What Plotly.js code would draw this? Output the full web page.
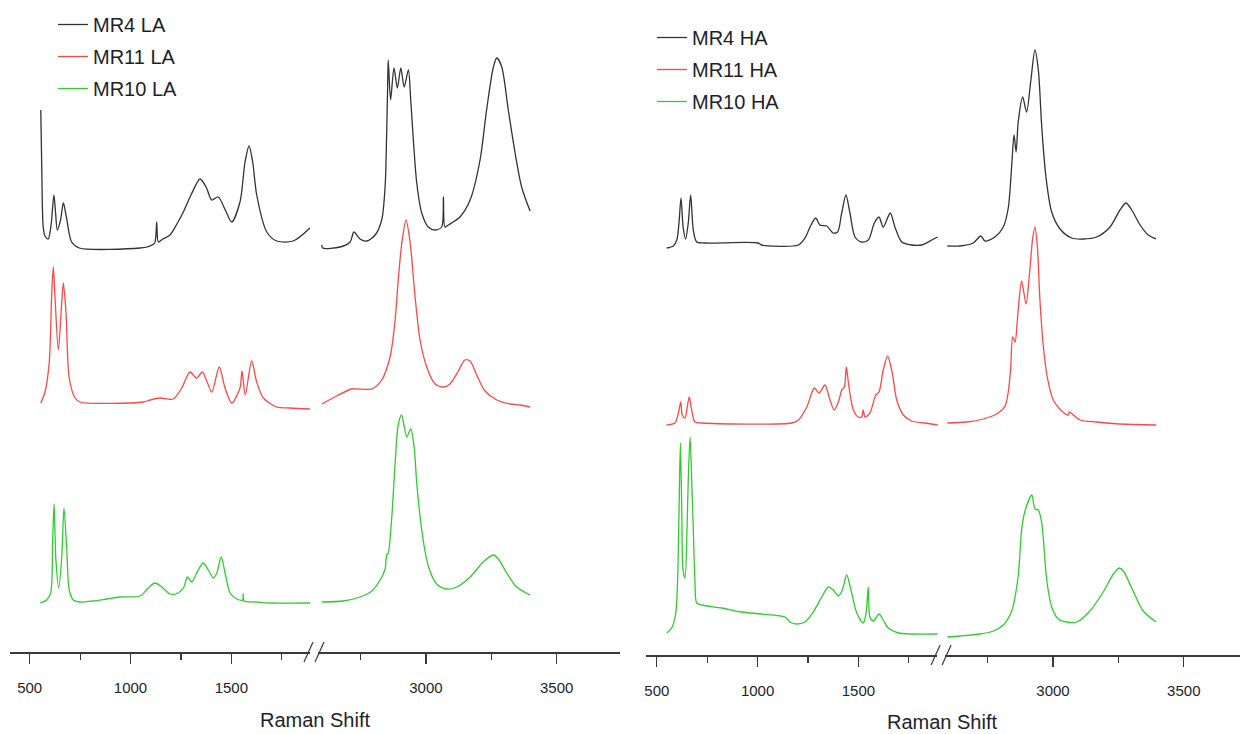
<!DOCTYPE html>
<html><head><meta charset="utf-8">
<script src="https://cdn.plot.ly/plotly-3.0.1.min.js"></script>
<style>html,body{margin:0;padding:0;background:#fff}#chart{width:1240px;height:734px}</style>
</head><body><div id="chart"></div>
<script>
// ---------- DATA (Raman shift, intensity a.u. incl. stack offset) ----------
// Left panel: LA samples
const LA_MR4_x1 = [555,560,567,576,592,606,620,628,637,653,667,682,708,746,1047,1097,1120,1130,1138,1160,1196,1230,1262,1300,1345,1375,1403,1435,1470,1502,1543,1568,1588,1606,1626,1676,1725,1807,1890];
const LA_MR4_y1 = [542,482,425,416,413,427,457,440,422,432,449,435,410,404,404,406,409,430,410,413,417,428,440,457,473,465,452,455,442,430,450,490,506,490,457,420,411,411,424];
const LA_MR4_x2 = [2602,2605,2672,2710,2725,2748,2774,2806,2831,2844,2850,2854,2856,2865,2878,2891,2904,2917,2933,2942,2952,2965,2984,3009,3035,3060,3067,3073,3086,3130,3169,3207,3232,3258,3271,3290,3315,3341,3366,3398];
const LA_MR4_y2 = [407,404,405,410,420,413,411,417,432,465,519,569,592,552,584,564,584,565,582,552,512,469,439,425,422,425,455,425,427,435,452,492,542,585,594,585,542,499,465,441];

const LA_MR11_x1 = [555,576,597,609,617,625,642,659,667,680,696,725,749,1063,1097,1146,1212,1254,1295,1328,1356,1380,1403,1440,1469,1502,1543,1553,1569,1601,1626,1659,1725,1791,1890];
const LA_MR11_y1 = [249,260,290,357,385,357,302,350,369,340,274,254,250,250,252,254,253,264,280,274,280,270,260,285,264,249,264,281,257,291,270,254,245,244,243];
const LA_MR11_x2 = [2602,2659,2716,2793,2831,2863,2882,2894,2907,2924,2939,2958,2977,3003,3035,3067,3092,3124,3149,3169,3194,3226,3271,3322,3360,3398];
const LA_MR11_y2 = [248,256,263,263,272,295,331,371,407,432,411,357,313,285,268,265,268,281,292,291,277,261,252,248,247,245];

const LA_MR10_x1 = [551,584,604,614,621,630,644,659,670,684,696,716,749,815,882,948,1047,1088,1121,1155,1196,1237,1265,1282,1304,1328,1361,1386,1411,1428,1450,1469,1494,1527,1556,1559,1563,1626,1692,1890];
const LA_MR10_y1 = [49,52,59,112,148,92,64,95,144,102,62,52,50,51,53,55,56,64,69,65,58,59,65,75,70,79,89,82,74,79,95,79,59,53,52,58,51,50,49,49];
const LA_MR10_x2 = [2602,2684,2748,2793,2825,2844,2850,2856,2869,2882,2894,2907,2927,2942,2955,2965,2984,3009,3041,3080,3118,3169,3219,3258,3277,3309,3347,3398];
const LA_MR10_y2 = [50,51,55,61,72,83,97,99,133,187,227,237,215,223,205,169,122,86,68,63,65,75,90,97,93,79,65,57];

// Right panel: HA samples
const HA_MR4_x1 = [549,582,599,610,620,631,643,656,668,681,698,739,1003,1020,1202,1235,1260,1288,1309,1343,1375,1397,1417,1438,1458,1483,1516,1549,1579,1602,1623,1658,1681,1715,1764,1814,1864,1893];
const HA_MR4_y1 = [407,409,415,432,457,427,416,432,460,425,413,412,412,410,410,417,428,437,430,429,422,423,442,460,442,418,413,415,432,438,428,442,428,413,410,410,415,418];
const HA_MR4_x2 = [2596,2644,2695,2724,2740,2778,2810,2829,2842,2851,2859,2867,2884,2899,2915,2931,2944,2957,2973,2995,3027,3071,3116,3167,3218,3256,3279,3301,3333,3364,3394];
const HA_MR4_y2 = [409,409,412,419,414,418,428,447,489,520,503,533,558,543,574,605,585,528,478,443,426,417,416,418,428,445,452,445,430,420,416];

const HA_MR11_x1 = [549,590,607,619,626,640,651,661,673,689,723,1169,1202,1244,1281,1305,1334,1359,1380,1404,1417,1430,1440,1453,1475,1499,1516,1524,1533,1557,1586,1602,1623,1645,1668,1690,1723,1764,1830,1893];
const HA_MR11_y1 = [230,232,242,253,240,237,248,258,245,233,232,232,235,248,267,262,270,255,245,255,265,268,288,268,245,238,238,245,238,242,260,263,285,299,282,255,240,234,232,230];
const HA_MR11_x2 = [2596,2670,2734,2791,2817,2829,2838,2846,2855,2864,2880,2897,2909,2922,2931,2940,2950,2963,2978,3001,3033,3058,3062,3103,3167,3256,3394];
const HA_MR11_y2 = [232,233,236,242,249,263,286,318,313,336,374,351,378,416,428,409,355,309,278,255,244,240,243,235,233,231,230];

const HA_MR10_x1 = [549,574,594,604,610,617,624,630,640,650,656,665,673,681,689,698,723,822,921,1020,1136,1161,1194,1235,1276,1318,1351,1375,1400,1420,1442,1463,1492,1524,1538,1549,1557,1574,1602,1623,1648,1698,1764,1893];
const HA_MR10_y1 = [22,27,42,82,142,212,142,85,77,128,175,218,175,125,75,52,50,47,43,41,38,33,31,33,43,58,68,65,59,65,80,65,42,32,42,68,38,34,41,35,27,22,21,21];
const HA_MR10_x2 = [2596,2644,2721,2772,2810,2842,2867,2880,2893,2919,2931,2944,2957,2966,2976,2995,3020,3052,3091,3141,3192,3231,3253,3269,3301,3345,3394];
const HA_MR10_y2 = [18,19,21,24,30,44,79,125,144,160,146,145,132,106,75,48,36,33,33,44,63,81,87,84,67,44,33];

const tickMajorLow = [500, 1000, 1500];
const tickMinorLow = [750, 1250, 1750];
const tickMajorHigh = [3000, 3500];
const tickMinorHigh = [2750, 3250];
const axisTitle = 'Raman Shift';

// ---------- STYLE / LAYOUT ----------
const W = 1240, H = 734;
const FONT = '"Liberation Sans Narrow", "Arial Narrow", "Liberation Sans", Arial, sans-serif';
const C_BLACK = '#333333', C_RED = '#ff4646', C_GREEN = '#2fcc2f';
const TXT = '#1e1e2a';
const px = v => v / W;
const py = v => 1 - v / H;

function tr(name, x, y, color, xa, ya, leg, show) {
  return {type: 'scatter', mode: 'lines', x: x, y: y, name: name,
    xaxis: xa, yaxis: ya, legend: leg, showlegend: show, legendgroup: leg + name,
    line: {color: color, width: 1.3, shape: 'spline', smoothing: 0.8},
    hoverinfo: 'skip'};
}

const data = [
  tr('MR4 LA', LA_MR4_x1, LA_MR4_y1, C_BLACK, 'x', 'y', 'legend', true),
  tr('MR4 LA', LA_MR4_x2, LA_MR4_y2, C_BLACK, 'x2', 'y', 'legend', false),
  tr('MR11 LA', LA_MR11_x1, LA_MR11_y1, C_RED, 'x', 'y', 'legend', true),
  tr('MR11 LA', LA_MR11_x2, LA_MR11_y2, C_RED, 'x2', 'y', 'legend', false),
  tr('MR10 LA', LA_MR10_x1, LA_MR10_y1, C_GREEN, 'x', 'y', 'legend', true),
  tr('MR10 LA', LA_MR10_x2, LA_MR10_y2, C_GREEN, 'x2', 'y', 'legend', false),
  tr('MR4 HA', HA_MR4_x1, HA_MR4_y1, C_BLACK, 'x3', 'y2', 'legend2', true),
  tr('MR4 HA', HA_MR4_x2, HA_MR4_y2, C_BLACK, 'x4', 'y2', 'legend2', false),
  tr('MR11 HA', HA_MR11_x1, HA_MR11_y1, C_RED, 'x3', 'y2', 'legend2', true),
  tr('MR11 HA', HA_MR11_x2, HA_MR11_y2, C_RED, 'x4', 'y2', 'legend2', false),
  tr('MR10 HA', HA_MR10_x1, HA_MR10_y1, C_GREEN, 'x3', 'y2', 'legend2', true),
  tr('MR10 HA', HA_MR10_x2, HA_MR10_y2, C_GREEN, 'x4', 'y2', 'legend2', false)
];

function xax(dom, range, major, minor, anchor) {
  return {domain: [px(dom[0]), px(dom[1])], range: range, anchor: anchor,
    showline: true, linecolor: '#3a3a3a', linewidth: 1.5,
    showgrid: false, zeroline: false, fixedrange: true,
    tickmode: 'array', tickvals: major, ticktext: major.map(String),
    ticks: 'outside', ticklen: 10, tickwidth: 1.2, tickcolor: '#3a3a3a',
    ticklabelstandoff: 11,
    tickfont: {family: FONT, size: 15, color: TXT},
    minor: {tickmode: 'array', tickvals: minor, ticks: 'outside', ticklen: 6, tickwidth: 1.2, tickcolor: '#3a3a3a', showgrid: false}};
}
function yax(bottomPx, top) {
  return {domain: [1 - bottomPx / H, 1], range: [0, top], visible: false,
    showgrid: false, zeroline: false, showline: false, fixedrange: true};
}

const L_break = 314, R_off = 627.1;
const legFont = {family: FONT, size: 20, color: TXT};
const layout = {
  width: W, height: H, margin: {l: 0, r: 0, t: 0, b: 0},
  paper_bgcolor: '#fff', plot_bgcolor: 'rgba(0,0,0,0)',
  font: {family: FONT, color: TXT},
  xaxis:  xax([10, L_break], [402.3, 1910.1], tickMajorLow, tickMinorLow, 'y'),
  xaxis2: xax([L_break, 620], [2572.2, 3742.0], tickMajorHigh, tickMinorHigh, 'y'),
  xaxis3: xax([645.7, L_break + R_off], [444.9, 1910.1], tickMajorLow, tickMinorLow, 'y2'),
  xaxis4: xax([L_break + R_off, 1240], [2572.2, 3714.9], tickMajorHigh, tickMinorHigh, 'y2'),
  yaxis:  yax(652, 652),
  yaxis2: yax(655, 655),
  legend:  {x: px(53), y: py(5), xanchor: 'left', yanchor: 'top', bgcolor: 'rgba(0,0,0,0)',
            font: legFont, traceorder: 'grouped', tracegroupgap: 3},
  legend2: {x: px(652), y: py(18), xanchor: 'left', yanchor: 'top', bgcolor: 'rgba(0,0,0,0)',
            font: legFont, traceorder: 'grouped', tracegroupgap: 3},
  annotations: [
    {text: axisTitle, xref: 'paper', yref: 'paper', x: px(315), y: py(720), showarrow: false,
     font: {family: FONT, size: 20, color: TXT}, xanchor: 'center', yanchor: 'middle'},
    {text: axisTitle, xref: 'paper', yref: 'paper', x: px(942), y: py(722), showarrow: false,
     font: {family: FONT, size: 20, color: TXT}, xanchor: 'center', yanchor: 'middle'}
  ],
  shapes: []
};
// axis-break marks "//"
[[652, 0], [655, R_off]].forEach(([ay, off]) => {
  layout.shapes.push({type: 'rect', xref: 'paper', yref: 'paper', layer: 'above',
    x0: px(310 + off), x1: px(318 + off), y0: py(ay + 3), y1: py(ay - 3),
    fillcolor: '#fff', line: {width: 0}});
  [304, 315].forEach(x0 => layout.shapes.push({type: 'line', xref: 'paper', yref: 'paper', layer: 'above',
    x0: px(x0 + off), y0: py(ay + 10), x1: px(x0 + 9 + off), y1: py(ay - 10),
    line: {color: '#3a3a3a', width: 1.2}}));
});

Plotly.newPlot('chart', data, layout, {staticPlot: true, displayModeBar: false});
</script></body></html>
